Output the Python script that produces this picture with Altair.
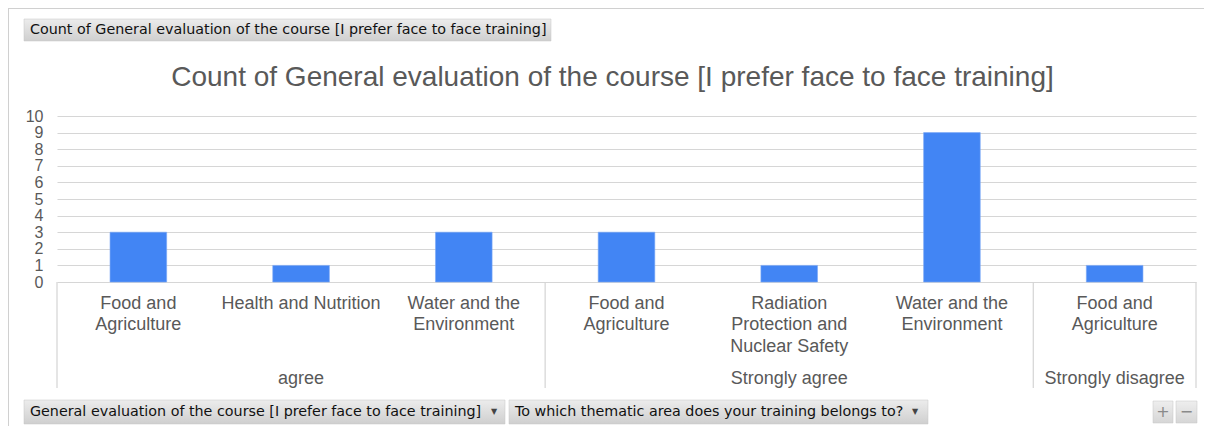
import altair as alt
import pandas as pd

# ---------------- data ----------------
groups = ["agree", "agree", "agree",
          "Strongly agree", "Strongly agree", "Strongly agree",
          "Strongly disagree"]
areas = ["Food and Agriculture", "Health and Nutrition", "Water and the Environment",
         "Food and Agriculture", "Radiation Protection and Nuclear Safety",
         "Water and the Environment", "Food and Agriculture"]
area_labels = ["Food and\nAgriculture", "Health and Nutrition", "Water and the\nEnvironment",
               "Food and\nAgriculture", "Radiation\nProtection and\nNuclear Safety",
               "Water and the\nEnvironment", "Food and\nAgriculture"]
counts = [3, 1, 3, 3, 1, 9, 1]
y_ticks = [0, 1, 2, 3, 4, 5, 6, 7, 8, 9, 10]

chart_title = "Count of General evaluation of the course [I prefer face to face training]"
data_field_button = "Count of General evaluation of the course [I prefer face to face training]"
row_field_buttons = ["General evaluation of the course [I prefer face to face training]",
                     "To which thematic area does your training belongs to?"]

df = pd.DataFrame({"idx": list(range(len(counts))), "group": groups, "area": areas,
                   "label": area_labels, "count": counts})
grp = df.groupby("group", sort=False)["idx"].agg(["min", "max"]).reset_index()
grp["start"] = grp["min"]
grp["end"] = grp["max"] + 1
grp["mid"] = (grp["start"] + grp["end"]) / 2
bounds = pd.DataFrame({"b": sorted(set(grp["start"]) | set(grp["end"]))})

# ---------------- layout ----------------
PW, PH = 1139, 166
TXT = "#595959"
FONT = "Liberation Sans"
UI_FONT = "DejaVu Sans"

xscale = alt.Scale(domain=[0, len(counts)], nice=False, zero=False, padding=0)
yscale = alt.Scale(domain=[0, 10], nice=False, padding=0)

one = pd.DataFrame({"a": [0]})

bars = alt.Chart(df).transform_calculate(
    x0="datum.idx + 0.326", x1="datum.idx + 0.674"
).mark_bar(color="#4285f4", stroke="#7aa7f7", strokeWidth=0.6).encode(
    x=alt.X("x0:Q", scale=xscale, axis=None),
    x2="x1:Q",
    y=alt.Y("count:Q", scale=yscale,
            axis=alt.Axis(values=y_ticks, grid=True, domain=False, ticks=False,
                          labelFontSize=16, labelColor=TXT, labelFont=FONT,
                          labelPadding=14, labelOverlap=False, title=None,
                          gridColor="#d6d6d6", gridWidth=1.2)),
    y2=alt.datum(0),
)

cat_labels = alt.Chart(df).transform_calculate(xc="datum.idx + 0.5").mark_text(
    font=FONT, fontSize=18, color=TXT, align="center", baseline="top",
    lineBreak="\n", lineHeight=21.5
).encode(x=alt.X("xc:Q", scale=xscale, axis=None), y=alt.value(178.5), text="label:N")

group_labels = alt.Chart(grp).mark_text(
    font=FONT, fontSize=18, color=TXT, align="center", baseline="middle"
).encode(x=alt.X("mid:Q", scale=xscale, axis=None), y=alt.value(263), text="group:N")

dividers = alt.Chart(bounds).mark_rule(color="#d4d4d4", strokeWidth=1.2).encode(
    x=alt.X("b:Q", scale=xscale, axis=None), y=alt.value(PH), y2=alt.value(272))

title = alt.Chart(one).mark_text(
    font=FONT, fontSize=28, color=TXT, align="center", baseline="alphabetic", text=chart_title
).encode(x=alt.value(555.5), y=alt.value(-30))

# outer frame lines
frame_top = alt.Chart(one).mark_rule(color="#d0d0d0", strokeWidth=1).encode(
    x=alt.value(-49), x2=alt.value(PW + 8), y=alt.value(-107.5))
frame_left = alt.Chart(one).mark_rule(color="#d0d0d0", strokeWidth=1).encode(
    x=alt.value(-48.5), y=alt.value(-108), y2=alt.value(310))

grad = alt.Gradient(gradient="linear",
                    stops=[alt.GradientStop(color="#ececec", offset=0),
                           alt.GradientStop(color="#cfcfcf", offset=1)],
                    x1=0, x2=0, y1=0, y2=1)
grad_light = alt.Gradient(gradient="linear",
                          stops=[alt.GradientStop(color="#eeeeee", offset=0),
                                 alt.GradientStop(color="#d6d6d6", offset=1)],
                          x1=0, x2=0, y1=0, y2=1)

def button(x0, x1, y0, y1, fill=grad):
    return alt.Chart(one).mark_rect(fill=fill, stroke="#c4c4c4", strokeWidth=0.5).encode(
        x=alt.value(x0), x2=alt.value(x1), y=alt.value(y0), y2=alt.value(y1))

def label(x, y, s, size=14.3, color="#111111", align="left", font=UI_FONT):
    return alt.Chart(one).mark_text(font=font, fontSize=size, color=color, align=align,
                                    baseline="middle", text=s).encode(
        x=alt.value(x), y=alt.value(y))

top_btn = button(-33, 494, -97, -75)
top_txt = label(-27, -86, data_field_button)
b1 = button(-33, 448, 284, 308)
b1_txt = label(-27, 296, row_field_buttons[0])
b1_arr = label(437, 296, "▼", size=8, color="#444444", align="center")
b2 = button(452, 871, 284, 308)
b2_txt = label(458, 296, row_field_buttons[1])
b2_arr = label(858, 296, "▼", size=8, color="#444444", align="center")
plus_btn = button(1096, 1116, 285, 307, fill=grad_light)
plus_txt = label(1106, 296, "+", size=16, color="#8a8a8a", align="center")
minus_btn = button(1119, 1140, 285, 307, fill=grad_light)
minus_txt = label(1129.5, 296, "−", size=16, color="#8a8a8a", align="center")

chart = alt.layer(
    frame_top, frame_left, bars, dividers, cat_labels, group_labels, title,
    top_btn, top_txt, b1, b1_txt, b1_arr, b2, b2_txt, b2_arr,
    plus_btn, plus_txt, minus_btn, minus_txt
).properties(
    width=PW, height=PH,
    padding={"left": 49, "top": 108, "right": 8, "bottom": 144},
    autosize=alt.AutoSizeParams(type="none"),
    background="white",
).configure_view(stroke=None)

chart.save("out.html", embed_options={"renderer": "svg", "actions": False})
